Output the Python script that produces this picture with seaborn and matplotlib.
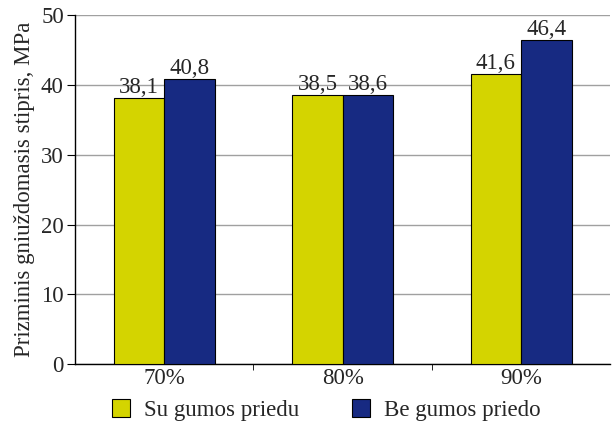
import pandas as pd
import seaborn as sns
import matplotlib.pyplot as plt
from matplotlib.patches import Patch

# data
categories = ["70%", "80%", "90%"]
series_names = ["Su gumos priedu", "Be gumos priedo"]
with_rubber = [38.1, 38.5, 41.6]
without_rubber = [40.8, 38.6, 46.4]

df = pd.DataFrame({
    "cat": categories * 2,
    "series": [series_names[0]] * 3 + [series_names[1]] * 3,
    "value": with_rubber + without_rubber,
})

sns.set_style("white")
plt.rcParams['font.family'] = ['Liberation Serif', 'DejaVu Serif']
FS = 16.5

fig = plt.figure(figsize=(6.12, 4.21), dpi=100)
ax = fig.add_axes([0.1225, 0.135, 0.875, 0.829])

palette = ["#D4D400", "#172A82"]
sns.barplot(data=df, x="cat", y="value", hue="series", palette=palette,
            width=0.567, gap=0, saturation=1, edgecolor="black", linewidth=0.8,
            ax=ax, legend=False, zorder=3)

for cont in ax.containers:
    ax.bar_label(cont, labels=[f"{v:.1f}".replace(".", ",") for v in cont.datavalues],
                 fontsize=FS, padding=0)

ax.set_ylim(0, 50)
ax.set_xlim(-0.5, 2.5)
ax.set_yticks(range(0, 51, 10))
ax.yaxis.grid(True, color="#a0a0a0", linewidth=1, zorder=0)
ax.set_axisbelow(True)
for s in ["top", "right"]:
    ax.spines[s].set_visible(False)
for s in ["left", "bottom"]:
    ax.spines[s].set_color("black")
    ax.spines[s].set_linewidth(1)

ax.set_xticks([0.5, 1.5], minor=True)
ax.tick_params(axis="x", which="major", length=0, labelsize=FS, pad=3)
ax.tick_params(axis="x", which="minor", length=4, direction="out", color="black", bottom=True)
ax.tick_params(axis="y", length=6, direction="out", color="black", labelsize=FS, left=True, pad=2)
ax.set_xlabel("")
ax.set_ylabel("Prizminis gniuždomasis stipris, MPa", fontsize=FS, labelpad=4)

handles = [Patch(facecolor=c, edgecolor="black", linewidth=0.8) for c in palette]
fig.legend(handles, series_names, loc="center", bbox_to_anchor=(0.533, 0.026), ncol=2,
           frameon=False, fontsize=FS, handlelength=0.8, handleheight=0.8,
           handletextpad=0.6, columnspacing=2.3)

fig.savefig("out.png", dpi=100)
